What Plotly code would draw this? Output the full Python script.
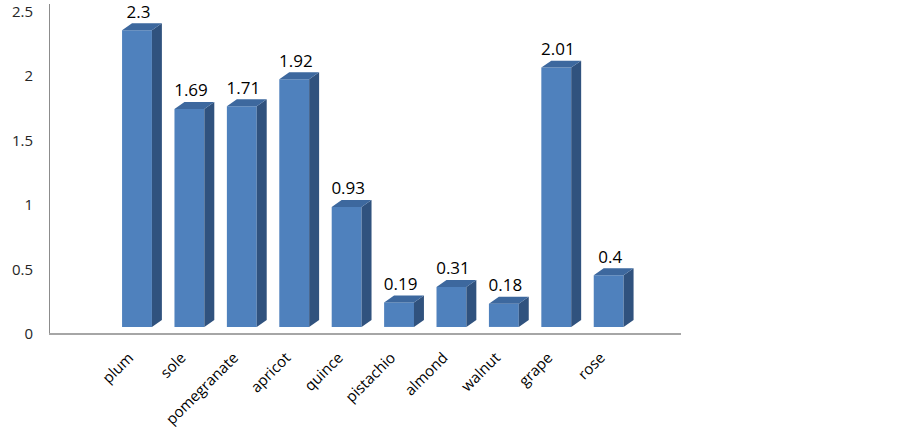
import plotly.graph_objs as go

categories = ['plum', 'sole', 'pomegranate', 'apricot', 'quince',
              'pistachio', 'almond', 'walnut', 'grape', 'rose']
values = [2.3, 1.69, 1.71, 1.92, 0.93, 0.19, 0.31, 0.18, 2.01, 0.4]
value_labels = ['2.3', '1.69', '1.71', '1.92', '0.93', '0.19', '0.31', '0.18', '2.01', '0.4']
y_ticks = [0, 0.5, 1, 1.5, 2, 2.5]
y_tick_labels = ['0', '0.5', '1', '1.5', '2', '2.5']

# fake 3d look: depth of the bars in axis units
bar_w = 0.57
dx = 0.19
dy = 0.054

xs = list(range(len(categories)))

front = go.Bar(x=xs, y=values, width=bar_w,
               marker=dict(color='#4F81BD', line=dict(width=0)),
               hoverinfo='skip', showlegend=False)

side_x, side_y, top_x, top_y = [], [], [], []
for i, v in zip(xs, values):
    r = i + bar_w / 2
    l = i - bar_w / 2
    side_x += [r, r + dx, r + dx, r, r, None]
    side_y += [0, dy, v + dy, v, 0, None]
    top_x += [l, r, r + dx, l + dx, l, None]
    top_y += [v, v, v + dy, v + dy, v, None]

side = go.Scatter(x=side_x, y=side_y, mode='lines', fill='toself',
                  fillcolor='#30527E', line=dict(width=0, color='#30527E'),
                  hoverinfo='skip', showlegend=False)
top = go.Scatter(x=top_x, y=top_y, mode='lines', fill='toself',
                 fillcolor='#3D689E', line=dict(width=0, color='#3D689E'),
                 hoverinfo='skip', showlegend=False)

labels = go.Scatter(x=[i + 0.03 for i in xs], y=[v + dy + 0.01 for v in values],
                    mode='text', text=value_labels, textposition='top center',
                    textfont=dict(size=17, color='#000000', family='Open Sans'),
                    cliponaxis=False, hoverinfo='skip', showlegend=False)

layout = go.Layout(
    width=903, height=432,
    margin=dict(l=50, r=222, t=4, b=99),
    paper_bgcolor='white', plot_bgcolor='white',
    font=dict(family='Open Sans', size=15, color='#262626'),
    xaxis=dict(range=[-1.66, 10.38], tickvals=xs, ticktext=categories,
               tickangle=-45, showgrid=False, zeroline=False, automargin=False,
               showline=True, linecolor='#A6A6A6', linewidth=2,
               ticks='', ticklabelstandoff=8, ticklabelshift=-8,
               tickfont=dict(size=15, color='#000000')),
    yaxis=dict(range=[-0.047, 2.503], tickvals=y_ticks, ticktext=y_tick_labels,
               showgrid=False, zeroline=False, automargin=False,
               showline=True, linecolor='#8C8C8C', linewidth=1,
               ticks='', ticklabelstandoff=13, ticklabelshift=7,
               tickfont=dict(size=15, color='#262626')),
)

fig = go.Figure(data=[front, side, top, labels], layout=layout)
# page body has a default 8px margin, drop it so the chart sits at 0,0
fig.write_html("out.html", config={'displayModeBar': False},
               post_script="document.body.style.margin='0';")
